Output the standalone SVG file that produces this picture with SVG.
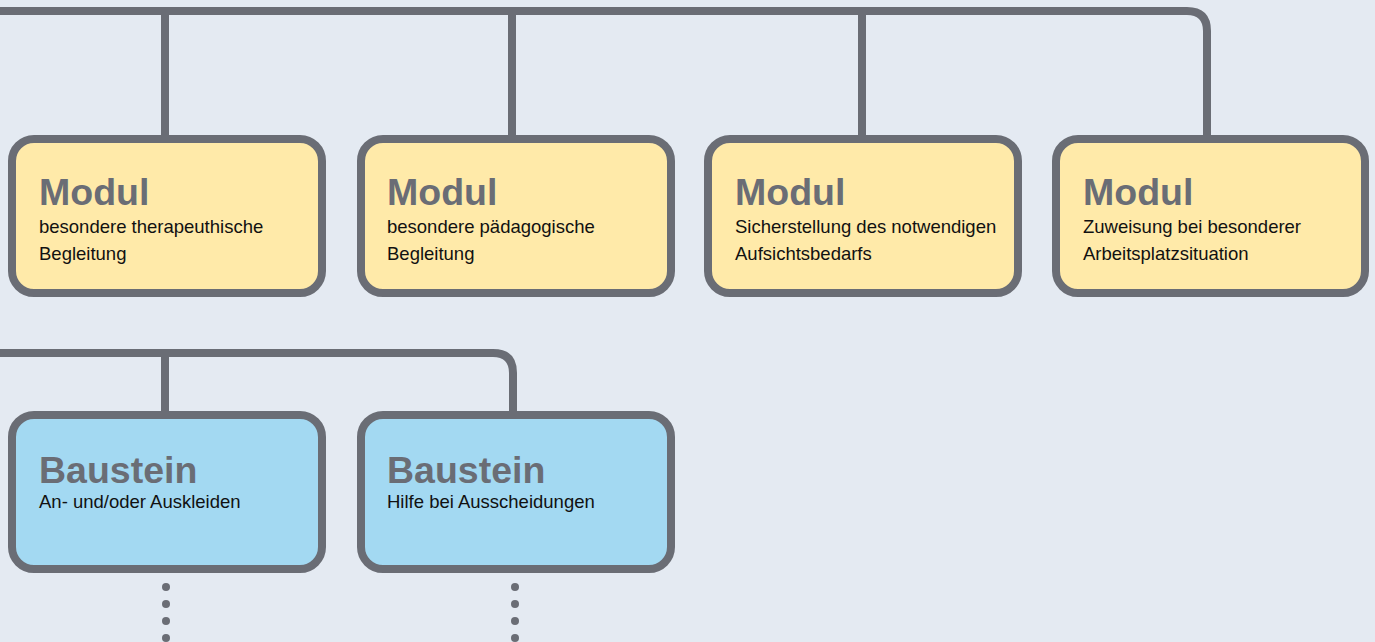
<svg xmlns="http://www.w3.org/2000/svg" width="1375" height="642" viewBox="0 0 1375 642">
<style>
.box{stroke:#6a6d75;stroke-width:8}
.mod{fill:#ffeaa9}
.bau{fill:#a3d9f2}
.conn{fill:none;stroke:#6a6d75;stroke-width:8;stroke-linejoin:round}
.title{font-family:"Liberation Sans",Arial,sans-serif;font-weight:bold;font-size:37.5px;fill:#6a6d75}
.sub{font-family:"Liberation Sans",Arial,sans-serif;font-size:18.5px;fill:#111}
.dot{fill:#6a6d75}
</style>
<rect width="1375" height="642" fill="#e4eaf2"/>
<g id="connectors">
<path class="conn" d="M0 11 H1187 Q1207 11 1207 31 V139"/>
<path class="conn" d="M165 11 V139 M512 11 V139 M862 11 V139"/>
<path class="conn" d="M0 353 H493 Q513 353 513 373 V415"/>
<path class="conn" d="M165 353 V415"/>
<g class="dot">
<circle cx="166" cy="587" r="4"/><circle cx="166" cy="604" r="4"/><circle cx="166" cy="621" r="4"/><circle cx="166" cy="638" r="4"/>
<circle cx="515" cy="587" r="4"/><circle cx="515" cy="604" r="4"/><circle cx="515" cy="621" r="4"/><circle cx="515" cy="638" r="4"/>
</g>
</g>
<g id="modul1">
<rect class="box mod" x="12" y="139" width="310" height="154" rx="22"/>
<text class="title" x="39" y="205">Modul</text>
<text class="sub" x="39" y="233">besondere therapeuthische</text>
<text class="sub" x="39" y="260">Begleitung</text>
</g>
<g id="modul2">
<rect class="box mod" x="361" y="139" width="310" height="154" rx="22"/>
<text class="title" x="387" y="205">Modul</text>
<text class="sub" x="387" y="233">besondere pädagogische</text>
<text class="sub" x="387" y="260">Begleitung</text>
</g>
<g id="modul3">
<rect class="box mod" x="708" y="139" width="310" height="154" rx="22"/>
<text class="title" x="735" y="205">Modul</text>
<text class="sub" x="735" y="233">Sicherstellung des notwendigen</text>
<text class="sub" x="735" y="260">Aufsichtsbedarfs</text>
</g>
<g id="modul4">
<rect class="box mod" x="1056" y="139" width="309" height="154" rx="22"/>
<text class="title" x="1083" y="205">Modul</text>
<text class="sub" x="1083" y="233">Zuweisung bei besonderer</text>
<text class="sub" x="1083" y="260">Arbeitsplatzsituation</text>
</g>
<g id="baustein1">
<rect class="box bau" x="12" y="415" width="310" height="154" rx="22"/>
<text class="title" x="39" y="483">Baustein</text>
<text class="sub" x="39" y="508">An- und/oder Auskleiden</text>
</g>
<g id="baustein2">
<rect class="box bau" x="361" y="415" width="310" height="154" rx="22"/>
<text class="title" x="387" y="483">Baustein</text>
<text class="sub" x="387" y="508">Hilfe bei Ausscheidungen</text>
</g>
</svg>
